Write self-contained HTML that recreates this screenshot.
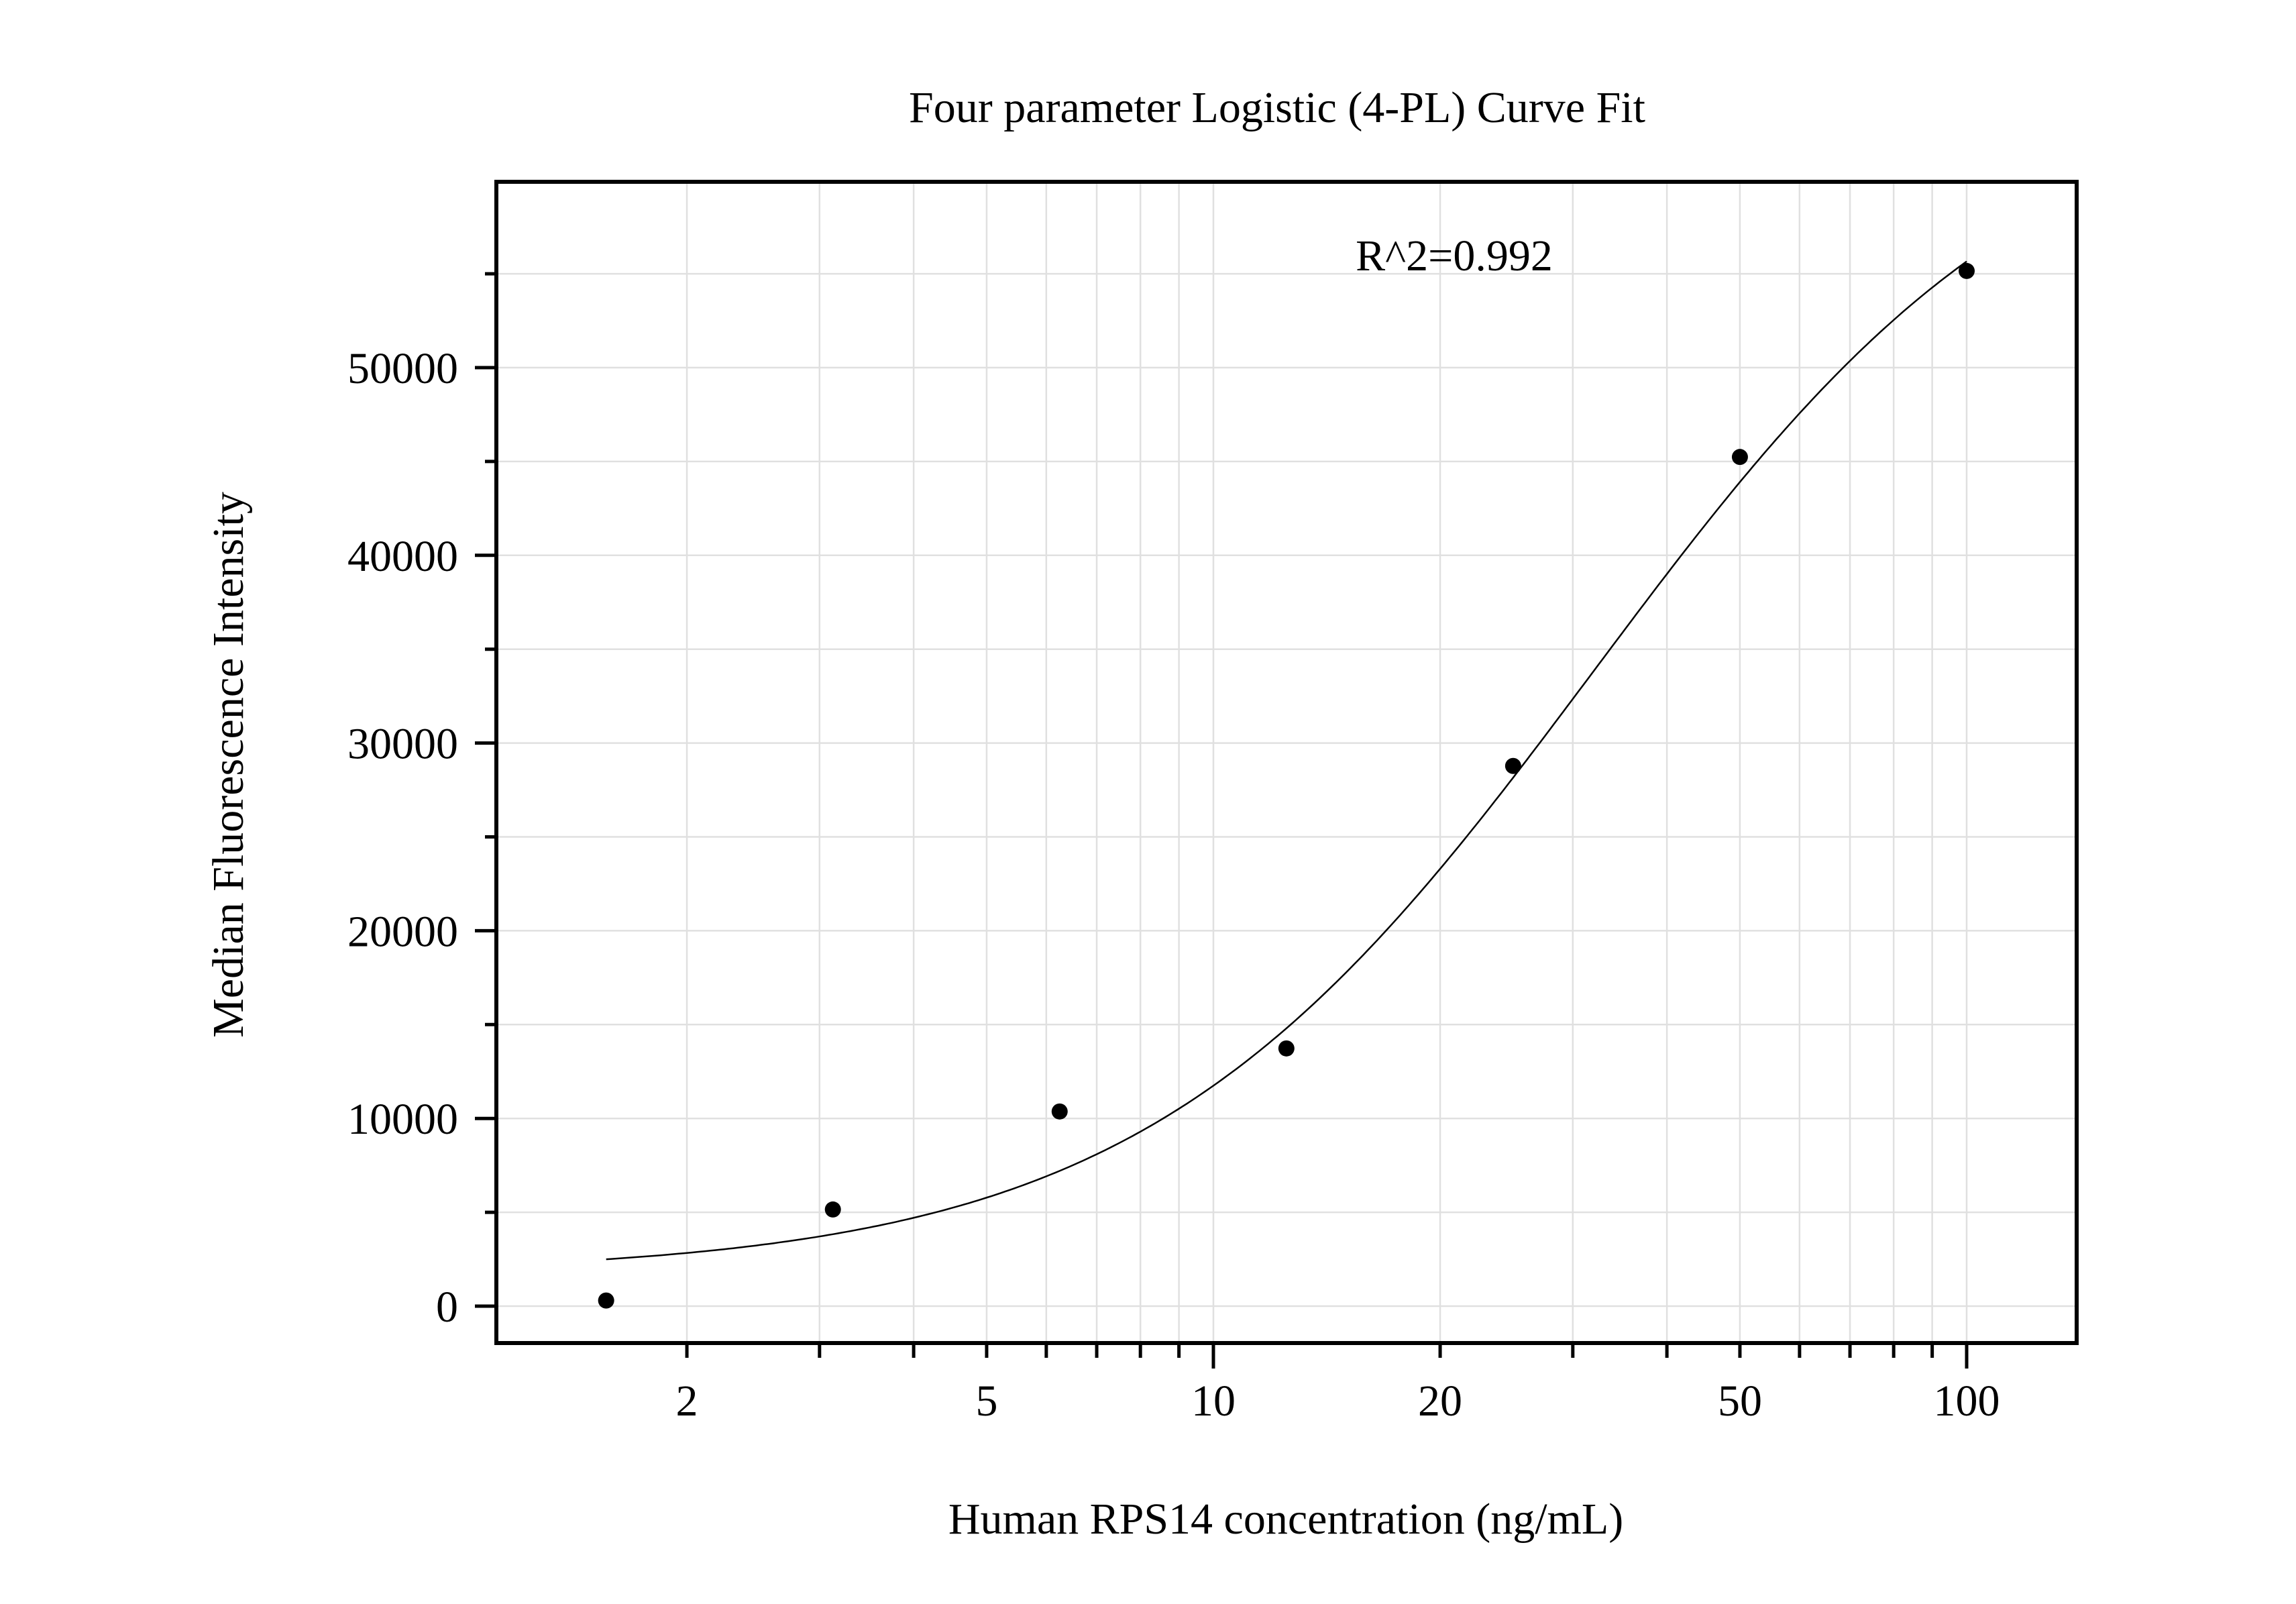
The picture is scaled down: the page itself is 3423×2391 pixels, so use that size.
<!DOCTYPE html>
<html><head><meta charset="utf-8"><style>
html,body{margin:0;padding:0;background:#fff}
svg{display:block}
text{font-family:"Liberation Serif",serif;fill:#000}
</style></head><body>
<svg id="chart" width="3423" height="2391" viewBox="0 0 3423 2391" xmlns="http://www.w3.org/2000/svg">
<rect width="3423" height="2391" fill="#fff"/>
<g id="grid"></g>
<g id="ticks"></g>
<g id="series"></g>
<rect x="740" y="271" width="2356" height="1731" fill="none" stroke="#000" stroke-width="6"/>
<text x="1904" y="182" font-size="66" text-anchor="middle">Four parameter Logistic (4-PL) Curve Fit</text>
<text x="2168" y="403" font-size="66" text-anchor="middle">R^2=0.992</text>
<text x="1917" y="2286" font-size="66" text-anchor="middle">Human RPS14 concentration (ng/mL)</text>
<text x="0" y="0" font-size="66" text-anchor="middle" transform="translate(362,1140) rotate(-90)">Median Fluorescence Intensity</text>
</svg>
<script>
const xValues = [1.5625, 3.125, 6.25, 12.5, 25, 50, 100];
const yValues = [300, 5150, 10370, 13730, 28780, 45240, 55150];
const fitParams = [1700, 1.45, 32, 66000]; // A (bottom), B (slope), C (EC50), D (top)
const yTicks = [0, 10000, 20000, 30000, 40000, 50000];
const yMinorTicks = [5000, 15000, 25000, 35000, 45000, 55000];
const xLabelTicks = [2, 5, 10, 20, 50, 100];
const xMinorTicks = [2,3,4,5,6,7,8,9,10,20,30,40,50,60,70,80,90,100];

const NS = "http://www.w3.org/2000/svg";
const L = 740, R = 3096, T = 271, B = 2002;
function xs(v){ return 2932 + (Math.log10(v) - 2) * 1123; }
function ys(v){ return 1947 - v * (1947 - 548) / 50000; }
function mk(tag, attrs, parent){
  const e = document.createElementNS(NS, tag);
  for (const k in attrs) e.setAttribute(k, attrs[k]);
  parent.appendChild(e); return e;
}
const grid = document.getElementById('grid');
const ticks = document.getElementById('ticks');
const series = document.getElementById('series');

xMinorTicks.forEach(v => {
  const x = xs(v);
  const g = mk('line', {x1:x, x2:x, y1:T, y2:B, stroke:'#e0e0e0', 'stroke-width':2.5}, grid);
  
  
  const major = (v === 10 || v === 100);
  const t = mk('line', {x1:x, x2:x, y1:B, y2:B + (major ? 38 : 22), stroke:'#000', 'stroke-width':5}, ticks);
  
  
});
xLabelTicks.forEach(v => {
  const t = mk('text', {x:xs(v), y:2110, 'font-size':66, 'text-anchor':'middle'}, ticks);
  t.textContent = v;
  
  
});
yTicks.concat(yMinorTicks).forEach(v => {
  const y = ys(v);
  const g = mk('line', {x1:L, x2:R, y1:y, y2:y, stroke:'#e0e0e0', 'stroke-width':2.5}, grid);
  
  
});
yTicks.forEach(v => {
  const y = ys(v);
  const t = mk('line', {x1:L - 32, x2:L, y1:y, y2:y, stroke:'#000', 'stroke-width':5}, ticks);
  
  
  const lb = mk('text', {x:683, y:y + 23, 'font-size':66, 'text-anchor':'end'}, ticks);
  lb.textContent = v;
  
  
});
yMinorTicks.forEach(v => {
  const y = ys(v);
  const t = mk('line', {x1:L - 17, x2:L, y1:y, y2:y, stroke:'#000', 'stroke-width':5}, ticks);
  
  
});

function fourPL(x){
  const [A, Bs, C, D] = fitParams;
  return D + (A - D) / (1 + Math.pow(x / C, Bs));
}
let d = '';
const lx0 = Math.log10(xValues[0]), lx1 = Math.log10(xValues[xValues.length - 1]);
for (let i = 0; i <= 300; i++) {
  const x = Math.pow(10, lx0 + (lx1 - lx0) * i / 300);
  d += (i ? 'L' : 'M') + xs(x).toFixed(1) + ',' + ys(fourPL(x)).toFixed(1);
}
const curve = mk('path', {d:d, fill:'none', stroke:'#000', 'stroke-width':2.5}, series);



xValues.forEach((v, i) => {
  const c = mk('circle', {cx:xs(v), cy:ys(yValues[i]), r:12, fill:'#000'}, series);
  
  
});
</script>
</body></html>
